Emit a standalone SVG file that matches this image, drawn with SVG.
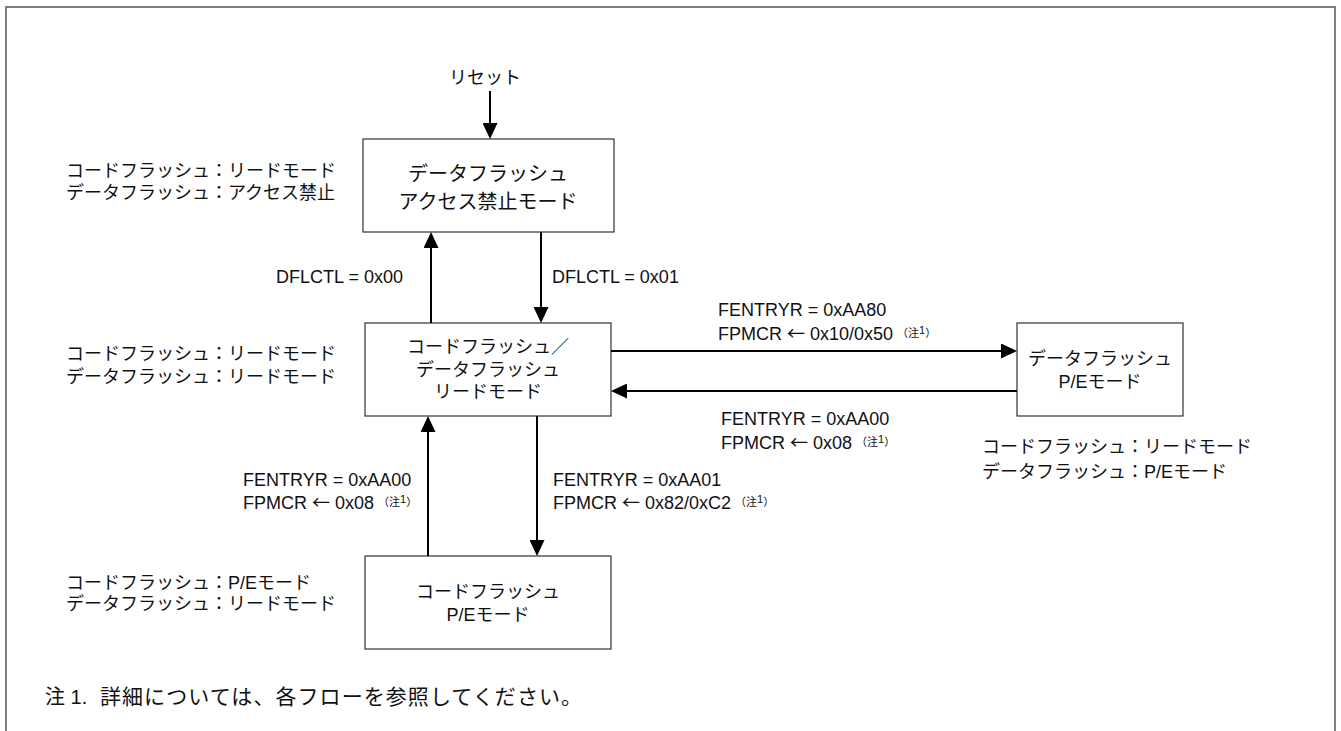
<svg xmlns="http://www.w3.org/2000/svg" width="1341" height="731" viewBox="0 0 1341 731">
<style>
text{font-family:"Liberation Sans","Noto Sans CJK JP",sans-serif;fill:#111;font-size:18px}
.box{fill:#fff;stroke:#333;stroke-width:1.2}
.big{font-size:20px}
.c{text-anchor:middle}
.e{text-anchor:end}
.n{font-size:11px}
.ar{font-family:"Noto Sans CJK JP",sans-serif}
.conn line{stroke:#000;stroke-width:2;marker-end:url(#ah)}
</style>
<defs>
<marker id="ah" markerUnits="userSpaceOnUse" markerWidth="16" markerHeight="15" refX="8" refY="7.5" orient="auto">
<path d="M0,0 L16,7.5 L0,15 z" fill="#000"/>
</marker>
</defs>
<rect x="0" y="0" width="1341" height="731" fill="#fff"/>
<rect x="6" y="7" width="1329" height="800" fill="none" stroke="#555" stroke-width="1.5"/>

<g id="reset"><text class="c" x="485" y="84">リセット</text></g>

<g id="node-df-disabled">
<rect class="box" x="363" y="139" width="251" height="93"/>
<text class="big c" x="488" y="181">データフラッシュ</text>
<text class="big c" x="488" y="209">アクセス禁止モード</text>
</g>

<g id="node-read">
<rect class="box" x="365" y="323" width="246" height="93"/>
<text class="c" x="488" y="353">コードフラッシュ／</text>
<text class="c" x="488" y="376">データフラッシュ</text>
<text class="c" x="488" y="398">リードモード</text>
</g>

<g id="node-df-pe">
<rect class="box" x="1017" y="323" width="166" height="93"/>
<text class="c" x="1100" y="365">データフラッシュ</text>
<text class="c" x="1100" y="388">P/Eモード</text>
</g>

<g id="node-cf-pe">
<rect class="box" x="365" y="556" width="246" height="93"/>
<text class="c" x="488" y="598">コードフラッシュ</text>
<text class="c" x="488" y="621">P/Eモード</text>
</g>

<g id="annotations">
<text x="66" y="177">コードフラッシュ：リードモード</text>
<text x="66" y="199">データフラッシュ：アクセス禁止</text>
<text x="66" y="360">コードフラッシュ：リードモード</text>
<text x="66" y="383">データフラッシュ：リードモード</text>
<text x="66" y="589">コードフラッシュ：P/Eモード</text>
<text x="66" y="610">データフラッシュ：リードモード</text>
<text x="982" y="453">コードフラッシュ：リードモード</text>
<text x="982" y="478">データフラッシュ：P/Eモード</text>
</g>

<g id="connectors" class="conn">
<line x1="490" y1="91" x2="490" y2="131"/>
<line x1="431" y1="323" x2="431" y2="240"/>
<line x1="541" y1="232" x2="541" y2="315"/>
<line x1="611" y1="351" x2="1009" y2="351"/>
<line x1="1017" y1="391" x2="619" y2="391"/>
<line x1="428" y1="556" x2="428" y2="424"/>
<line x1="537" y1="416" x2="537" y2="548"/>
</g>

<g id="connector-labels">
<text class="e" x="403" y="283">DFLCTL = 0x00</text>
<text x="552" y="283">DFLCTL = 0x01</text>
<text x="718" y="316">FENTRYR = 0xAA80</text>
<text x="718" y="340">FPMCR <tspan class="ar">←</tspan> 0x10/0x50<tspan class="n" dx="4" dy="-3">（注</tspan><tspan class="n" dy="-3">1</tspan><tspan class="n" dy="3">）</tspan></text>
<text x="721" y="425">FENTRYR = 0xAA00</text>
<text x="721" y="449">FPMCR <tspan class="ar">←</tspan> 0x08<tspan class="n" dx="4" dy="-3">（注</tspan><tspan class="n" dy="-3">1</tspan><tspan class="n" dy="3">）</tspan></text>
<text x="243" y="486">FENTRYR = 0xAA00</text>
<text x="243" y="509">FPMCR <tspan class="ar">←</tspan> 0x08<tspan class="n" dx="4" dy="-3">（注</tspan><tspan class="n" dy="-3">1</tspan><tspan class="n" dy="3">）</tspan></text>
<text x="553" y="486">FENTRYR = 0xAA01</text>
<text x="553" y="509">FPMCR <tspan class="ar">←</tspan> 0x82/0xC2<tspan class="n" dx="4" dy="-3">（注</tspan><tspan class="n" dy="-3">1</tspan><tspan class="n" dy="3">）</tspan></text>
</g>

<g id="note">
<text x="45" y="704" style="font-size:20px">注 1.</text>
<text x="100" y="704" style="font-size:21px" textLength="482" lengthAdjust="spacing">詳細については、各フローを参照してください。</text>
</g>
</svg>
